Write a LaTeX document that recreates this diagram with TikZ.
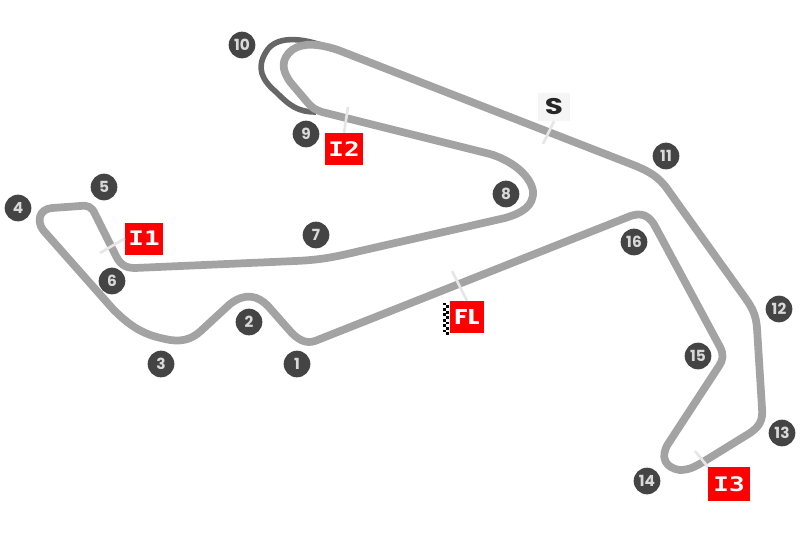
\documentclass[tikz,border=0pt]{standalone}
\usepackage{graphicx}
\usepackage{fontspec}
\setmainfont{Poppins}
\newfontfamily\sectorfont{DejaVu Sans Mono}
\newcommand{\widen}[1]{\scalebox{1.3}[1]{#1}}
\definecolor{trackgray}{HTML}{A3A3A3}
\definecolor{pitgray}{HTML}{666666}
\definecolor{turngray}{HTML}{444444}
\definecolor{ticklight}{HTML}{E6E6E6}
\tikzset{
	track/.style={draw=trackgray, line width=5.8pt, line join=round},
	pit/.style={draw=pitgray, line width=4.2pt},
	tick/.style={draw=ticklight, line width=2pt},
	turn/.style={circle, fill=turngray, text=white!85!black, minimum size=20pt, inner sep=0pt, font=\bfseries\fontsize{11.5}{11.5}\selectfont},
	sector/.style={fill=red, text=white, minimum width=28.5pt, minimum height=24pt, inner sep=0pt, font=\sectorfont\bfseries\fontsize{15}{15}\selectfont},
	chk/.style={fill=black, minimum size=2.1pt, inner sep=0pt}
}
\begin{document}
\begin{tikzpicture}[x=0.75pt,y=-0.75pt]
	\useasboundingbox (0,0) rectangle (800,533);
	% pit loop at turn 10
	\draw[pit] (332,49) .. controls (300,36) and (275,36) .. (266,52) .. controls (256,68) and (262,80) .. (276,92) .. controls (290,106) and (298,112) .. (316,112);
	% main lap
	\draw[track] (315,341) -- (628,217) .. controls (642,211) and (650,216) .. (656,228)
		-- (720,347) .. controls (724,355) and (723,360) .. (719,366)
		-- (668,444) .. controls (660,457) and (665,468) .. (680,470) .. controls (690,470) and (696,466) .. (703,462)
		-- (750,433) .. controls (760,426) and (763,420) .. (762,408)
		-- (757,328) .. controls (756,316) and (753,309) .. (746,299)
		-- (668,190) .. controls (659,177) and (650,172) .. (636,166)
		-- (338,50) .. controls (320,44) and (303,42) .. (292,50) .. controls (281,59) and (281,70) .. (291,83)
		-- (308,103) .. controls (312,108) and (316,110) .. (322,112)
		-- (490,154) .. controls (510,160) and (530,174) .. (533,191) .. controls (534,206) and (522,213) .. (505,218)
		-- (360,251) .. controls (335,257) and (320,260) .. (295,261)
		-- (135,268) .. controls (125,268) and (120,264) .. (116,256)
		-- (95,214) .. controls (92,207) and (88,205) .. (80,206)
		-- (52,208) .. controls (40,209) and (36,220) .. (43,230)
		-- (112,308) .. controls (135,332) and (150,336) .. (170,340) .. controls (185,342) and (194,338) .. (204,328)
		-- (230,304) .. controls (246,292) and (258,296) .. (268,306)
		-- (290,331) .. controls (298,340) and (306,344) .. (315,341) -- cycle;
	% sector boxes
	\node[sector] (i1) at (144,238.5) {\widen{I1}};
	\node[sector] (i2) at (344,149) {\widen{I2}};
	\node[sector, minimum width=31pt, minimum height=25pt] (i3) at (729,484) {\widen{I3}};
	\node[sector, minimum width=25.5pt] (fl) at (467,317) {\fontspec{Poppins}\bfseries\fontsize{16}{16}\selectfont\scalebox{1.15}[1]{FL}};
	\node[fill=black!4, text=black!85, minimum width=24pt, minimum height=21pt, inner sep=0pt, font=\bfseries\fontsize{17}{17}\selectfont] (s) at (554,107) {\widen{S}};
	% ticks
	\coordinate (i1end) at (100,253);
	\coordinate (i2end) at (348,107);
	\coordinate (i3end) at (695,451);
	\coordinate (flend) at (452,271);
	\coordinate (send) at (543,144);
	\draw[tick] (i1.west) -- (i1end);
	\draw[tick] (i2.north) -- (i2end);
	\draw[tick] (i3.north west) -- (i3end);
	\draw[tick] (fl.north) -- (flend);
	\draw[tick] (s.south) -- (send);
	% chequered edge of the FL box
	\foreach \row in {0,...,5}{
		\node[chk] (chka\row) at (444.5,{304+5.4*\row}) {};
		\node[chk] (chkb\row) at (447.8,{306.7+5.4*\row}) {};
	}
	% turn numbers
	\node[turn] (t1) at (297,364) {1};
	\node[turn] (t2) at (249,322) {2};
	\node[turn] (t3) at (161,364) {3};
	\node[turn] (t4) at (18,208) {4};
	\node[turn] (t5) at (104,187) {5};
	\node[turn] (t6) at (112,281) {6};
	\node[turn] (t7) at (316,235) {7};
	\node[turn] (t8) at (506,194) {8};
	\node[turn] (t9) at (306,134) {9};
	\node[turn] (t10) at (242,45) {10};
	\node[turn] (t11) at (666,156) {11};
	\node[turn] (t12) at (779,309) {12};
	\node[turn] (t13) at (782,433) {13};
	\node[turn] (t14) at (647,481) {14};
	\node[turn] (t15) at (698,356) {15};
	\node[turn] (t16) at (634,242) {16};
\end{tikzpicture}
\end{document}
